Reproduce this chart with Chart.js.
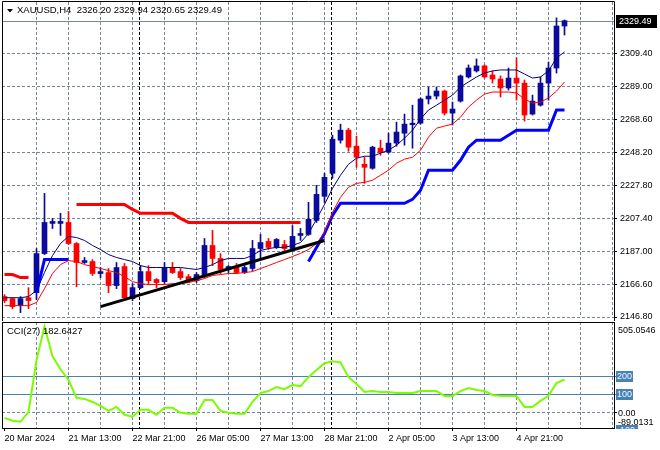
<!DOCTYPE html>
<html>
<head>
<meta charset="utf-8">
<script src="https://cdn.jsdelivr.net/npm/chart.js@4/dist/chart.umd.min.js"></script>
<style>
  body { margin: 0; background: #fff; }
  #wrap { position: relative; width: 660px; height: 450px; }
  canvas { position: absolute; left: 0; }
  #price { top: 0; }
  #cci { top: 321px; }
</style>
</head>
<body>
<div id="wrap">
  <canvas id="price" width="660" height="321"></canvas>
  <canvas id="cci" width="660" height="129"></canvas>
</div>
<script>
const FONT = 'Liberation Sans'
const GRID = '#778899'
const BULL = '#0a0a9c'
const BEAR = '#ff0000'

const symbol = 'XAUUSD,H4'

// H4 candles, 20 Mar 05:00 .. 5 Apr 01:00
const opens = [2159.4, 2158.1, 2153.8, 2158.7, 2161.8, 2185.9, 2204.5, 2204.5, 2205.1, 2192.1,
  2180.4, 2181.0, 2173.6, 2174.2, 2166.2, 2177.9, 2158.1, 2164.9, 2174.8, 2169.9,
  2168.6, 2177.3, 2174.8, 2171.7, 2169.2, 2172.4, 2190.9, 2182.9, 2176.1, 2177.9,
  2174.2, 2176.7, 2189.0, 2193.4, 2189.7, 2191.5, 2189.0, 2197.1, 2197.7, 2206.3,
  2221.2, 2235.4, 2255.8, 2262.0, 2252.1, 2241.0, 2238.5, 2250.9, 2248.4, 2254.0,
  2260.1, 2265.4, 2266.3, 2281.2, 2283.0, 2286.1, 2272.5, 2279.9, 2294.8, 2298.5,
  2301.6, 2296.0, 2293.5, 2288.0, 2294.1, 2291.0, 2271.9, 2277.4, 2291.0, 2300.3,
  2326.20]
const highs = [2160.6, 2158.7, 2159.4, 2164.9, 2189.0, 2223.0, 2207.6, 2210.7, 2211.9, 2192.7,
  2183.5, 2182.2, 2177.3, 2176.7, 2180.4, 2179.8, 2167.4, 2178.5, 2178.5, 2170.5,
  2180.4, 2180.4, 2176.7, 2173.0, 2174.2, 2195.2, 2200.2, 2185.9, 2178.5, 2179.8,
  2178.5, 2194.0, 2197.7, 2195.2, 2195.2, 2194.0, 2203.2, 2201.4, 2217.5, 2228.0,
  2235.4, 2258.9, 2265.7, 2263.2, 2258.3, 2245.3, 2252.1, 2255.8, 2260.1, 2266.9,
  2271.9, 2277.4, 2281.8, 2288.6, 2288.6, 2286.7, 2279.3, 2296.0, 2302.2, 2305.9,
  2302.2, 2298.5, 2295.4, 2300.3, 2306.5, 2292.9, 2283.6, 2294.8, 2304.0, 2331.2,
  2329.94]
const lows = [2155.6, 2151.9, 2149.5, 2151.9, 2157.5, 2185.3, 2201.4, 2197.1, 2191.5, 2165.5,
  2179.8, 2172.4, 2171.1, 2161.8, 2164.3, 2156.9, 2156.9, 2164.3, 2167.4, 2164.9,
  2167.4, 2173.6, 2169.9, 2168.0, 2168.0, 2171.1, 2178.5, 2173.6, 2174.2, 2173.6,
  2173.6, 2175.4, 2182.9, 2188.4, 2189.0, 2187.8, 2187.8, 2194.0, 2197.1, 2205.1,
  2217.5, 2232.3, 2254.0, 2249.0, 2239.1, 2229.2, 2237.9, 2246.5, 2247.8, 2252.1,
  2252.7, 2250.9, 2265.7, 2278.1, 2281.2, 2271.3, 2265.1, 2279.3, 2294.1, 2297.8,
  2294.1, 2291.0, 2282.4, 2286.7, 2280.5, 2267.6, 2271.3, 2276.8, 2280.5, 2297.2,
  2320.65]
const closes = [2156.9, 2153.2, 2158.1, 2156.9, 2185.9, 2205.1, 2205.7, 2205.7, 2192.1, 2180.4,
  2181.6, 2173.6, 2174.8, 2166.2, 2177.3, 2158.7, 2164.9, 2174.8, 2169.2, 2168.0,
  2177.3, 2174.2, 2171.1, 2169.2, 2173.0, 2190.9, 2182.9, 2176.1, 2177.9, 2174.2,
  2177.3, 2189.0, 2192.7, 2189.7, 2194.6, 2189.0, 2196.5, 2198.3, 2207.0, 2222.4,
  2232.9, 2256.4, 2262.0, 2251.5, 2245.3, 2239.1, 2251.5, 2248.4, 2254.0, 2260.8,
  2265.7, 2266.3, 2281.2, 2283.0, 2286.1, 2272.5, 2275.0, 2295.4, 2300.3, 2301.6,
  2294.8, 2293.5, 2288.0, 2294.1, 2291.0, 2271.3, 2279.9, 2291.0, 2300.3, 2326.2,
  2329.49]

// moving averages (thin navy / thin red)
const maFast = [2158.7, 2158.7, 2158.7, 2159.4, 2163.1, 2174.2, 2184.7, 2192.1, 2196.5, 2195.8,
  2194.0, 2190.9, 2188.4, 2185.3, 2183.5, 2182.2, 2181.0, 2178.5, 2177.3, 2177.3,
  2177.3, 2177.3, 2177.3, 2176.7, 2176.1, 2177.3, 2179.1, 2181.6, 2182.9, 2182.9,
  2182.9, 2184.7, 2187.8, 2189.0, 2189.7, 2189.7, 2190.9, 2192.7, 2198.3, 2207.0,
  2216.2, 2226.1, 2234.2, 2241.0, 2244.7, 2245.9, 2245.9, 2247.8, 2249.6, 2252.7,
  2257.0, 2262.0, 2268.8, 2274.4, 2277.4, 2280.5, 2283.6, 2288.6, 2291.7, 2294.8,
  2297.2, 2298.5, 2299.1, 2299.1, 2299.1, 2296.6, 2294.1, 2294.8, 2298.5, 2306.5,
  2310.2]
const maSlow = [2153.8, 2153.8, 2153.8, 2153.8, 2155.7, 2164.3, 2173.6, 2179.1, 2181.6, 2181.0,
  2179.1, 2177.9, 2176.7, 2175.4, 2174.2, 2171.7, 2168.6, 2167.4, 2166.8, 2166.8,
  2166.8, 2167.4, 2167.4, 2168.0, 2169.2, 2170.5, 2172.4, 2173.0, 2173.6, 2173.6,
  2174.2, 2174.8, 2176.7, 2178.5, 2180.4, 2182.2, 2184.1, 2186.0, 2188.4, 2192.1,
  2198.9, 2211.3, 2220.6, 2226.8, 2229.2, 2229.8, 2231.1, 2234.2, 2237.3, 2241.6,
  2244.1, 2245.3, 2249.6, 2257.7, 2263.2, 2264.5, 2265.7, 2270.0, 2276.2, 2280.5,
  2284.2, 2285.5, 2285.5, 2285.5, 2284.9, 2281.2, 2278.7, 2279.3, 2281.8, 2286.1,
  2291.7]

// trailing stop lines (thick red above price / thick blue below)
const stopAbove = [2173.0, 2173.0, 2171.1, 2171.1, null, null, null, null, null, 2216.2,
  2216.2, 2216.2, 2216.2, 2216.2, 2216.2, 2216.2, 2213.1, 2210.7, 2210.7, 2210.7,
  2210.7, 2210.7, 2207.6, 2205.1, 2205.1, 2205.1, 2205.1, 2205.1, 2205.1, 2205.1,
  2205.1, 2205.1, 2205.1, 2205.1, 2205.1, 2205.1, 2205.1, 2205.1, null, null,
  null, null, null, null, null, null, null, null, null, null,
  null, null, null, null, null, null, null, null, null, null,
  null, null, null, null, null, null, null, null, null, null,
  null]
const stopBelow = [null, null, null, null, 2161.8, 2182.2, 2182.2, 2182.2, 2182.2, null,
  null, null, null, null, null, null, null, null, null, null,
  null, null, null, null, null, null, null, null, null, null,
  null, null, null, null, null, null, null, null, 2181.0, 2189.7,
  2198.3, 2209.4, 2216.9, 2216.9, 2216.9, 2216.9, 2216.9, 2216.9, 2216.9, 2216.9,
  2216.9, 2219.3, 2224.9, 2237.3, 2237.3, 2237.3, 2237.3, 2243.4, 2251.5, 2255.8,
  2255.8, 2255.8, 2255.8, 2258.9, 2262.0, 2262.0, 2262.0, 2262.0, 2262.0, 2274.4,
  2274.4]

// drawn trendline: [candle index, price]
const trendline = [[12, 2153.2], [40, 2194.0]]

const cci = [-32, -48, -54, 2, 290, 480, 313, 240, 180, 80,
  74, 57, 35, 7, 29, -15, -26, 13, 13, -15,
  24, 24, -4, -9, -9, 68, 68, 7, -4, -9,
  -9, 58, 107, 118, 141, 129, 152, 146, 196, 236,
  274, 285, 279, 196, 158, 113, 118, 113, 113, 107,
  107, 107, 118, 118, 118, 91, 91, 118, 135, 124,
  118, 96, 91, 91, 91, 29, 29, 63, 91, 163,
  182.6427]
const cciPeriod = 27
const cciLevels = [200, 100, -100]
const cciRange = [-89.0131, 505.0546]

const priceTicks = [2146.80, 2166.60, 2187.00, 2207.40, 2227.80, 2248.20, 2268.60, 2289.00, 2309.40]
const priceRange = [2146.80, 2341.0]
const timeLabels = ['20 Mar 2024', '21 Mar 13:00', '22 Mar 21:00', '26 Mar 05:00', '27 Mar 13:00',
  '28 Mar 21:00', '2 Apr 05:00', '3 Apr 13:00', '4 Apr 21:00']
const labelStep = 8   // bars between time labels
const weekStarts = [17, 41]

const last = closes.length - 1
const idx = closes.map((_, i) => i)
const candleColor = idx.map(i => closes[i] >= opens[i] ? BULL : BEAR)
const pts = arr => arr.map((v, i) => ({ x: i, y: v }))

// no extra room for half-labels at the ends of an axis
const noPad = s => { s.paddingTop = 0; s.paddingBottom = 0; s.paddingLeft = 0; s.paddingRight = 0 }

function xAxis(showLabels) {
  return {
    type: 'linear', min: -0.3125, max: 76.1875, offset: false,
    afterBuildTicks: s => {
      s.ticks = []
      for (let v = 0; v <= 76; v += 4) s.ticks.push({ value: v })
    },
    grid: {
      offset: false,
      color: c => c.tick && c.tick.value === 0 ? 'transparent' : GRID,
      drawTicks: showLabels, tickLength: 3,
      tickColor: c => c.tick && c.tick.value % labelStep === 0 && timeLabels[c.tick.value / labelStep] ? '#000' : 'transparent'
    },
    border: { display: false, dash: [3, 2] },
    ticks: {
      display: showLabels, autoSkip: false, maxRotation: 0, align: 'start', padding: 2,
      color: '#000', font: { family: FONT, size: 9 },
      callback: v => v % labelStep === 0 ? (timeLabels[v / labelStep] || '') : ''
    },
    afterFit: s => { s.height = showLabels ? 22 : 0; noPad(s) }
  }
}

function separators(ctx, a, x) {
  ctx.strokeStyle = '#000'
  ctx.lineWidth = 1
  ctx.setLineDash([3, 2])
  weekStarts.forEach(i => {
    const px = Math.round(x.getPixelForValue(i)) - 1.5
    ctx.beginPath(); ctx.moveTo(px, a.top); ctx.lineTo(px, a.bottom); ctx.stroke()
  })
  ctx.setLineDash([])
}

const mainOverlay = {
  id: 'mainOverlay',
  beforeDatasetsDraw(chart) {
    const { ctx, chartArea: a, scales: { x, y } } = chart
    ctx.save()
    separators(ctx, a, x)
    const by = Math.round(y.getPixelForValue(closes[last])) + 0.5
    ctx.strokeStyle = '#778899'
    ctx.beginPath(); ctx.moveTo(a.left, by); ctx.lineTo(a.right, by); ctx.stroke()
    ctx.restore()
  },
  afterDraw(chart) {
    const { ctx, chartArea: a, scales: { y } } = chart
    ctx.save()
    ctx.strokeStyle = '#000'
    ctx.lineWidth = 1
    ctx.beginPath()
    ctx.moveTo(a.left + 0.5, a.bottom + 4)
    ctx.lineTo(a.left + 0.5, a.top - 0.5)
    ctx.lineTo(a.right + 0.5, a.top - 0.5)
    ctx.lineTo(a.right + 0.5, a.bottom + 4)
    ctx.stroke()

    // header
    ctx.fillStyle = '#000'
    ctx.beginPath(); ctx.moveTo(7, 9); ctx.lineTo(13, 9); ctx.lineTo(10, 12.5); ctx.closePath(); ctx.fill()
    ctx.font = '9.5px ' + FONT
    ctx.textBaseline = 'middle'
    ctx.fillText(symbol + '  ' + [opens[last], highs[last], lows[last], closes[last]].map(v => v.toFixed(2)).join(' '), 17, 10.5)

    // current price box
    const py = y.getPixelForValue(closes[last])
    ctx.fillRect(a.right + 2, Math.round(py) - 6, 41, 13)
    ctx.fillStyle = '#fff'
    ctx.font = '9px ' + FONT
    ctx.fillText(closes[last].toFixed(2), a.right + 5, Math.round(py) + 0.5)
    ctx.restore()
  }
}

const cciOverlay = {
  id: 'cciOverlay',
  beforeDatasetsDraw(chart) {
    const { ctx, chartArea: a, scales: { x, y } } = chart
    ctx.save()
    separators(ctx, a, x)
    ctx.strokeStyle = '#4682b4'
    cciLevels.forEach(v => {
      if (v < cciRange[0]) return
      const py = Math.round(y.getPixelForValue(v)) + 0.5
      ctx.beginPath(); ctx.moveTo(a.left, py); ctx.lineTo(a.right + 2, py); ctx.stroke()
    })
    ctx.restore()
  },
  afterDraw(chart) {
    const { ctx, chartArea: a, scales: { y } } = chart
    ctx.save()
    ctx.strokeStyle = '#000'
    ctx.lineWidth = 1
    ctx.strokeRect(a.left + 0.5, a.top + 0.5, a.right - a.left, a.bottom - a.top)

    ctx.font = '9px ' + FONT
    ctx.textBaseline = 'middle'
    const lx = a.right + 4

    // level boxes (the lowest one is cut by the panel edge)
    ctx.save()
    ctx.beginPath(); ctx.rect(a.right + 1, a.top, 45, a.bottom - a.top + 1); ctx.clip()
    cciLevels.forEach(v => {
      const py = Math.round(y.getPixelForValue(v))
      ctx.fillStyle = '#4682b4'
      ctx.fillRect(a.right + 2, py - 5, v < 0 ? 22 : 17, 11)
      ctx.fillStyle = '#f4f8fb'
      ctx.fillText(String(v), a.right + 3, py + 0.5)
    })
    ctx.restore()

    ctx.fillStyle = '#000'
    ctx.fillText(cciRange[1].toFixed(4), lx, a.top + 9)
    ctx.fillText('0.00', lx, y.getPixelForValue(0) + 1.5)
    ctx.fillText(cciRange[0].toFixed(4), lx, a.bottom - 5)

    ctx.font = '9.5px ' + FONT
    ctx.fillText('CCI(' + cciPeriod + ') ' + cci[last].toFixed(4), 7, a.top + 9)
    ctx.restore()
  }
}

new Chart(document.getElementById('price'), {
  type: 'bar',
  data: {
    datasets: [
      { type: 'line', data: trendline.map(([x, y]) => ({ x, y })), borderColor: '#000', borderWidth: 3, pointRadius: 0, order: 0 },
      { type: 'line', data: pts(maFast), borderColor: '#000080', borderWidth: 1, pointRadius: 0, tension: 0, order: 1 },
      { type: 'line', data: pts(maSlow), borderColor: '#ff0000', borderWidth: 1, pointRadius: 0, tension: 0, order: 1 },
      { type: 'line', data: pts(stopAbove), borderColor: '#ff0000', borderWidth: 3, pointRadius: 0, tension: 0, order: 1 },
      { type: 'line', data: pts(stopBelow), borderColor: '#0000ff', borderWidth: 3, pointRadius: 0, tension: 0, order: 1 },
      { type: 'bar', data: idx.map(i => ({ x: i, y: [opens[i], closes[i]] })), backgroundColor: candleColor,
        barThickness: 5, minBarLength: 1, grouped: false, order: 2 },
      { type: 'bar', data: idx.map(i => ({ x: i, y: [lows[i], highs[i]] })), backgroundColor: candleColor,
        barThickness: 1, grouped: false, order: 3 }
    ]
  },
  options: {
    responsive: false, animation: false, devicePixelRatio: 1, events: [],
    layout: { padding: { left: 2, top: 2, right: 0, bottom: 4 } },
    plugins: { legend: { display: false }, tooltip: { enabled: false } },
    scales: {
      x: xAxis(false),
      y: {
        position: 'right', min: priceRange[0], max: priceRange[1],
        afterBuildTicks: s => { s.ticks = priceTicks.map(v => ({ value: v })) },
        grid: { color: GRID, tickLength: 3, tickColor: '#000' },
        border: { display: false, dash: [3, 2] },
        ticks: { color: '#000', padding: 3, font: { family: FONT, size: 9 }, callback: v => v.toFixed(2) },
        afterFit: s => { s.width = 46; noPad(s) }
      }
    }
  },
  plugins: [mainOverlay]
})

new Chart(document.getElementById('cci'), {
  type: 'line',
  data: {
    datasets: [
      { data: pts(cci), borderColor: '#7cfc00', borderWidth: 2, pointRadius: 0, tension: 0 }
    ]
  },
  options: {
    responsive: false, animation: false, devicePixelRatio: 1, events: [],
    layout: { padding: { left: 2, top: 1, right: 0, bottom: 0 } },
    plugins: { legend: { display: false }, tooltip: { enabled: false } },
    scales: {
      x: xAxis(true),
      y: {
        position: 'right', min: cciRange[0], max: cciRange[1],
        afterBuildTicks: s => { s.ticks = [{ value: 0 }] },
        grid: { color: GRID, tickLength: 3, tickColor: '#000' },
        border: { display: false, dash: [3, 2] },
        ticks: { display: false },
        afterFit: s => { s.width = 46; noPad(s) }
      }
    }
  },
  plugins: [cciOverlay]
})
</script>
</body>
</html>
